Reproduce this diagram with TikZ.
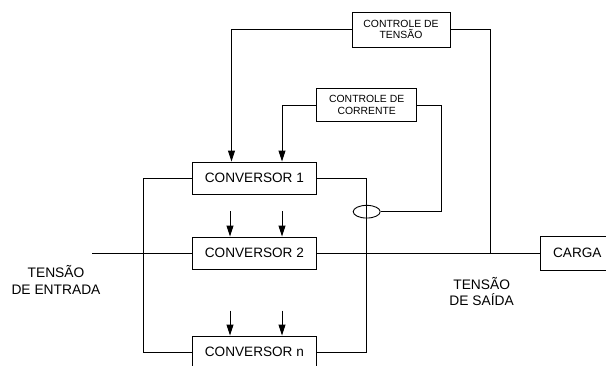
\documentclass[tikz,border=0pt]{standalone}
\usepackage{fontspec}
\setmainfont{Liberation Sans}
\usetikzlibrary{arrows.meta,shapes.geometric}
\begin{document}
\begin{tikzpicture}[x=1pt,y=-1pt,line width=0.9pt,
  blockbox/.style={draw,rectangle,inner sep=0pt,minimum width=124,minimum height=32,
    font=\fontsize{13.6}{16}\selectfont},
  ctrlbox/.style={draw,rectangle,inner sep=0pt,align=center,
    font=\fontsize{10.4}{11.6}\selectfont},
  label/.style={align=center,inner sep=0pt,font=\fontsize{13.8}{16.6}\selectfont},
  arr/.style={-{Triangle[width=7pt,length=11pt]}}]
\useasboundingbox (0,0) rectangle (606,365);
\begin{scope}
\clip (0,0) rectangle (606,365);

% control blocks
\node[ctrlbox,minimum width=98,minimum height=35] (tens) at (401,29.5) {CONTROLE DE\\TENSÃO};
\node[ctrlbox,minimum width=100,minimum height=33] (corr) at (366.7,105) {CONTROLE DE\\CORRENTE};

% converters
\node[blockbox] (conv1) at (254.4,178) {CONVERSOR 1};
\node[blockbox] (conv2) at (254.4,253) {CONVERSOR 2};
\node[blockbox] (convn) at (254.4,352) {CONVERSOR n};

% load
\node[blockbox,minimum width=73,minimum height=34] (carga) at (577.3,253) {CARGA};

% current sensor
\node[draw,ellipse,inner sep=0pt,minimum width=27,minimum height=12.7] (sens) at (366.7,211.7) {};

% helper points
\coordinate (in) at (92,253);
\coordinate (lt) at (143,178);
\coordinate (lb) at (143,352);
\coordinate (rt) at (366.7,178);
\coordinate (rb) at (366.7,352);
\coordinate (junc) at (490,253);
\coordinate (a1) at (230,211);
\coordinate (a2) at (282,211);
\coordinate (a3) at (230,310.7);
\coordinate (a4) at (282,310.7);

% power paths
\draw (in) -- (conv2.west);
\draw (conv2.east) -- (carga.west);
\draw (conv1.west) -- (lt) -- (lb) -- (convn.west);
\draw (conv1.east) -- (rt) -- (rb) -- (convn.east);

% control loops
\draw[arr] (tens.west) -| (conv1.north -| 231.5,0);
\draw (tens.east) -| (junc);
\draw[arr] (corr.west) -| (conv1.north -| 282,0);
\draw (corr.east) -| (441.7,211.7) -- (sens.east);

% control signals to the other converters
\draw[arr] (a1) -- (a1 |- conv2.north);
\draw[arr] (a2) -- (a2 |- conv2.north);
\draw[arr] (a3) -- (a3 |- convn.north);
\draw[arr] (a4) -- (a4 |- convn.north);
\end{scope}

% labels
\node[label] (ent) at (56,280) {TENSÃO\\DE ENTRADA};
\node[label] (sai) at (481.7,291.5) {TENSÃO\\DE SAÍDA};
\end{tikzpicture}
\end{document}
